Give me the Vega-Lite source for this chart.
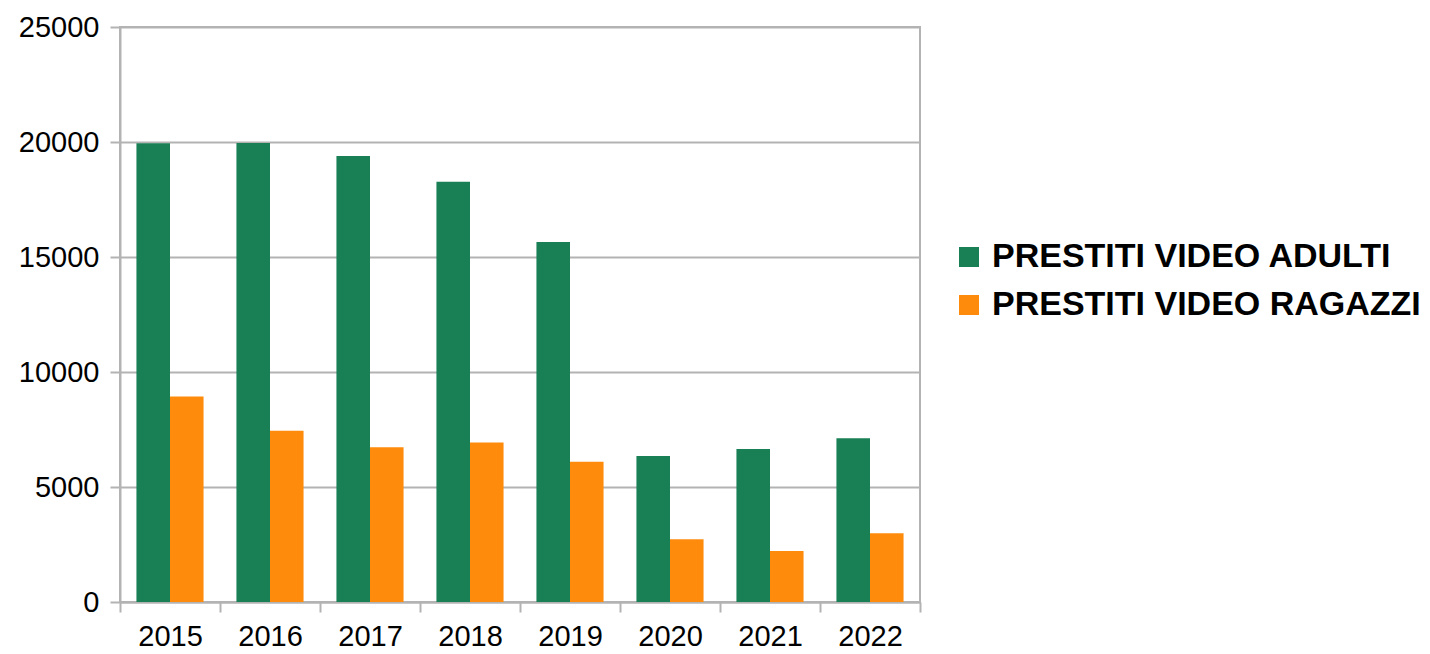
{
  "$schema": "https://vega.github.io/schema/vega-lite/v6.json",
  "width": 800,
  "height": 575,
  "autosize": {"type": "none"},
  "padding": {"left": 120, "top": 27, "right": 510, "bottom": 52},
  "background": "white",
  "config": {
    "view": {"stroke": "#b3b3b3", "strokeWidth": 2},
    "font": "Liberation Sans"
  },
  "data": {
    "values": [
      {"anno": "2015", "serie": "PRESTITI VIDEO ADULTI", "valore": 19950},
      {"anno": "2015", "serie": "PRESTITI VIDEO RAGAZZI", "valore": 8930},
      {"anno": "2016", "serie": "PRESTITI VIDEO ADULTI", "valore": 19960},
      {"anno": "2016", "serie": "PRESTITI VIDEO RAGAZZI", "valore": 7450},
      {"anno": "2017", "serie": "PRESTITI VIDEO ADULTI", "valore": 19390},
      {"anno": "2017", "serie": "PRESTITI VIDEO RAGAZZI", "valore": 6730},
      {"anno": "2018", "serie": "PRESTITI VIDEO ADULTI", "valore": 18270},
      {"anno": "2018", "serie": "PRESTITI VIDEO RAGAZZI", "valore": 6940},
      {"anno": "2019", "serie": "PRESTITI VIDEO ADULTI", "valore": 15650},
      {"anno": "2019", "serie": "PRESTITI VIDEO RAGAZZI", "valore": 6100},
      {"anno": "2020", "serie": "PRESTITI VIDEO ADULTI", "valore": 6350},
      {"anno": "2020", "serie": "PRESTITI VIDEO RAGAZZI", "valore": 2730},
      {"anno": "2021", "serie": "PRESTITI VIDEO ADULTI", "valore": 6650},
      {"anno": "2021", "serie": "PRESTITI VIDEO RAGAZZI", "valore": 2220},
      {"anno": "2022", "serie": "PRESTITI VIDEO ADULTI", "valore": 7120},
      {"anno": "2022", "serie": "PRESTITI VIDEO RAGAZZI", "valore": 2990}
    ]
  },
  "mark": {"type": "bar"},
  "encoding": {
    "x": {
      "field": "anno",
      "type": "nominal",
      "title": null,
      "scale": {"paddingInner": 0, "paddingOuter": 0},
      "axis": {
        "tickBand": "extent",
        "labelAngle": 0,
        "labelFontSize": 29,
        "labelColor": "#000000",
        "labelPadding": 10,
        "tickSize": 10,
        "tickColor": "#b3b3b3",
        "tickWidth": 2,
        "domainColor": "#b3b3b3",
        "domainWidth": 2,
        "grid": false
      }
    },
    "xOffset": {
      "field": "serie",
      "type": "nominal",
      "scale": {"paddingInner": 0, "paddingOuter": 0.49}
    },
    "y": {
      "field": "valore",
      "type": "quantitative",
      "title": null,
      "scale": {"domain": [0, 25000], "nice": false},
      "axis": {
        "values": [0, 5000, 10000, 15000, 20000, 25000],
        "format": "d",
        "labelFontSize": 29,
        "labelColor": "#000000",
        "labelPadding": 11,
        "tickSize": 10,
        "tickColor": "#b3b3b3",
        "tickWidth": 2,
        "domainColor": "#b3b3b3",
        "domainWidth": 2,
        "gridColor": "#b3b3b3",
        "gridWidth": 2
      }
    },
    "color": {
      "field": "serie",
      "type": "nominal",
      "title": null,
      "scale": {"domain": ["PRESTITI VIDEO ADULTI", "PRESTITI VIDEO RAGAZZI"], "range": ["#197f55", "#ff8b0d"]},
      "legend": {
        "orient": "none",
        "legendX": 832,
        "legendY": 213,
        "padding": 0,
        "symbolType": "square",
        "symbolSize": 400,
        "symbolStrokeWidth": 0,
        "symbolOpacity": 1,
        "labelFontSize": 34,
        "labelFontWeight": "bold",
        "labelColor": "#000000",
        "labelLimit": 600,
        "labelOffset": 6,
        "rowPadding": 14
      }
    }
  }
}
